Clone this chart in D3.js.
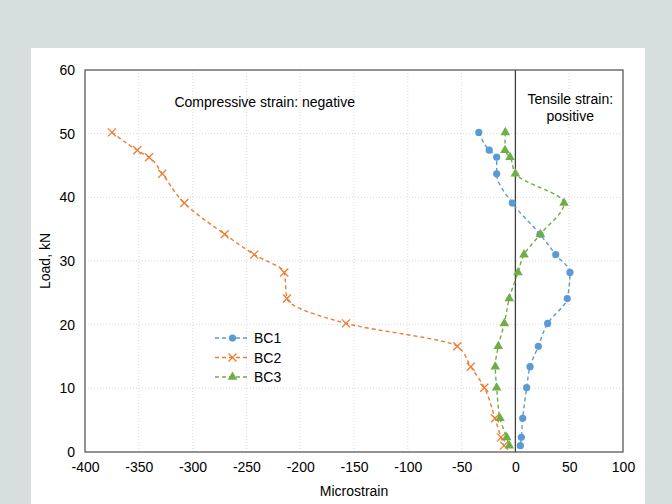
<!DOCTYPE html>
<html>
<head>
<meta charset="utf-8">
<script src="https://cdn.jsdelivr.net/npm/d3@7"></script>
<style>
  body { margin: 0; background: #d6dfde; }
  #chart { position: relative; width: 672px; height: 504px; }
  text { font-family: "Liberation Sans", Arial, sans-serif; fill: #000; }
</style>
</head>
<body>
<div id="chart"></div>
<script>
// load steps (kN) shared by the three gauges
var loads = [50.2, 47.4, 46.3, 43.7, 39.1, 34.2, 31.0, 28.2, 24.1, 20.2, 16.6, 13.4, 10.1, 5.3, 2.3, 1.0];

var bc1 = [-34, -24.3, -17.4, -17.4, -2.9, 22.9, 37.5, 50.7, 48.2, 30, 21.3, 13.6, 10.5, 6.8, 5.5, 4.6];
var bc2 = [-375, -351.4, -340.5, -328.2, -307.7, -270.2, -242.7, -214.8, -212.3, -157.4, -54, -41.5, -28.9, -19, -13.4, -10.6];
var bc3 = [-9.4, -9.7, -5, 0, 45.2, 23.2, 8, 2.4, -5.7, -10.3, -15.9, -18.7, -17.4, -14.3, -8.1, -5.7];

var seriesNames = ['BC1', 'BC2', 'BC3'];
var colors = ['#5b9bd5', '#ed7d31', '#70ad47'];
var xTicks = [-400, -350, -300, -250, -200, -150, -100, -50, 0, 50, 100];
var yTicks = [0, 10, 20, 30, 40, 50, 60];

var series = [bc1, bc2, bc3].map(function(vals, i) {
  return {
    name: seriesNames[i],
    color: colors[i],
    points: vals.map(function(v, j) { return { strain: v, load: loads[j] }; })
  };
});

var margin = { top: 70, right: 49, bottom: 52, left: 85 };
var width = 672 - margin.left - margin.right;
var height = 504 - margin.top - margin.bottom;
var fontSize = '14px';

var root = d3.select('#chart').append('svg')
  .attr('width', 672)
  .attr('height', 504);

// white panel
root.append('rect')
  .attr('x', 31).attr('y', 48)
  .attr('width', 614).attr('height', 470)
  .attr('fill', '#fff');

var svg = root.append('g')
  .attr('transform', `translate(${margin.left}, ${margin.top})`);

var x = d3.scaleLinear().domain([-400, 100]).range([0, width]);
var y = d3.scaleLinear().domain([0, 60]).range([height, 0]);

// grid
svg.append('g').selectAll('line')
  .data(xTicks.slice(1, -1))
  .enter().append('line')
    .attr('x1', d => x(d)).attr('x2', d => x(d))
    .attr('y1', 0).attr('y2', height)
    .attr('stroke', '#d9d9d9')
    .attr('stroke-dasharray', '1,2');

svg.append('g').selectAll('line')
  .data(yTicks.slice(1, -1))
  .enter().append('line')
    .attr('x1', 0).attr('x2', width)
    .attr('y1', d => y(d)).attr('y2', d => y(d))
    .attr('stroke', '#d9d9d9')
    .attr('stroke-dasharray', '1,2');

// axes (plain hyphen minus like the original)
var xAxis = d3.axisBottom(x).tickValues(xTicks).tickFormat(d => String(d)).tickSize(0).tickPadding(10);
var yAxis = d3.axisLeft(y).tickValues(yTicks).tickFormat(d => String(d)).tickSize(0).tickPadding(10);

svg.append('g')
  .attr('transform', `translate(0, ${height})`)
  .call(xAxis)
  .call(g => g.select('.domain').remove())
  .selectAll('text').style('font-size', fontSize).attr('fill', '#000');

svg.append('g')
  .call(yAxis)
  .call(g => g.select('.domain').remove())
  .selectAll('text').style('font-size', fontSize).attr('fill', '#000');

// frame + zero line
svg.append('rect')
  .attr('width', width).attr('height', height)
  .attr('fill', 'none')
  .attr('stroke', '#595959')
  .attr('stroke-width', 1.3);

svg.append('line')
  .attr('x1', x(0)).attr('x2', x(0))
  .attr('y1', 0).attr('y2', height)
  .attr('stroke', '#404040')
  .attr('stroke-width', 1.3);

// axis titles
svg.append('text')
  .attr('x', width / 2).attr('y', height + 44)
  .attr('text-anchor', 'middle')
  .style('font-size', fontSize)
  .text('Microstrain');

svg.append('text')
  .attr('transform', `translate(-35, ${height / 2}) rotate(-90)`)
  .attr('text-anchor', 'middle')
  .style('font-size', fontSize)
  .text('Load, kN');

// annotations
svg.append('text')
  .attr('x', x(-233)).attr('y', y(54.2))
  .attr('text-anchor', 'middle')
  .style('font-size', fontSize)
  .text('Compressive strain: negative');

svg.append('text')
  .attr('x', x(51)).attr('y', y(54.6))
  .attr('text-anchor', 'middle')
  .style('font-size', fontSize)
  .text('Tensile strain:');

svg.append('text')
  .attr('x', x(51)).attr('y', y(52.0))
  .attr('text-anchor', 'middle')
  .style('font-size', fontSize)
  .text('positive');

var line = d3.line()
  .x(d => x(d.strain))
  .y(d => y(d.load))
  .curve(d3.curveMonotoneY);

function drawMarker(g, name, color) {
  if (name === 'BC1') {
    g.append('circle').attr('r', 3.6).attr('fill', color);
  } else if (name === 'BC2') {
    g.append('path')
      .attr('d', 'M-4,-4L4,4M-4,4L4,-4')
      .attr('stroke', color)
      .attr('stroke-width', 1.3)
      .attr('fill', 'none');
  } else {
    g.append('path')
      .attr('d', d3.symbol(d3.symbolTriangle, 40)())
      .attr('fill', color);
  }
}

series.forEach(function(s) {
  svg.append('path')
    .datum(s.points)
    .attr('d', line)
    .attr('fill', 'none')
    .attr('stroke', s.color)
    .attr('stroke-width', 1.4)
    .attr('stroke-dasharray', '4,3');

  svg.selectAll('.pt-' + s.name)
    .data(s.points)
    .enter().append('g')
      .attr('class', 'pt-' + s.name)
      .attr('transform', d => `translate(${x(d.strain)}, ${y(d.load)})`)
      .each(function() { drawMarker(d3.select(this), s.name, s.color); });
});

// legend
var legend = svg.append('g')
  .attr('transform', `translate(${x(-279.2)}, ${y(17.9)})`);

series.forEach(function(s, i) {
  var row = legend.append('g').attr('transform', `translate(0, ${i * 19.5})`);
  row.append('line')
    .attr('x1', 0).attr('x2', 35)
    .attr('stroke', s.color)
    .attr('stroke-width', 1.4)
    .attr('stroke-dasharray', '4,3');
  var m = row.append('g').attr('transform', 'translate(17.5, 0)');
  drawMarker(m, s.name, s.color);
  row.append('text')
    .attr('x', 39).attr('y', 5)
    .style('font-size', fontSize)
    .text(s.name);
});
</script>
</body>
</html>
